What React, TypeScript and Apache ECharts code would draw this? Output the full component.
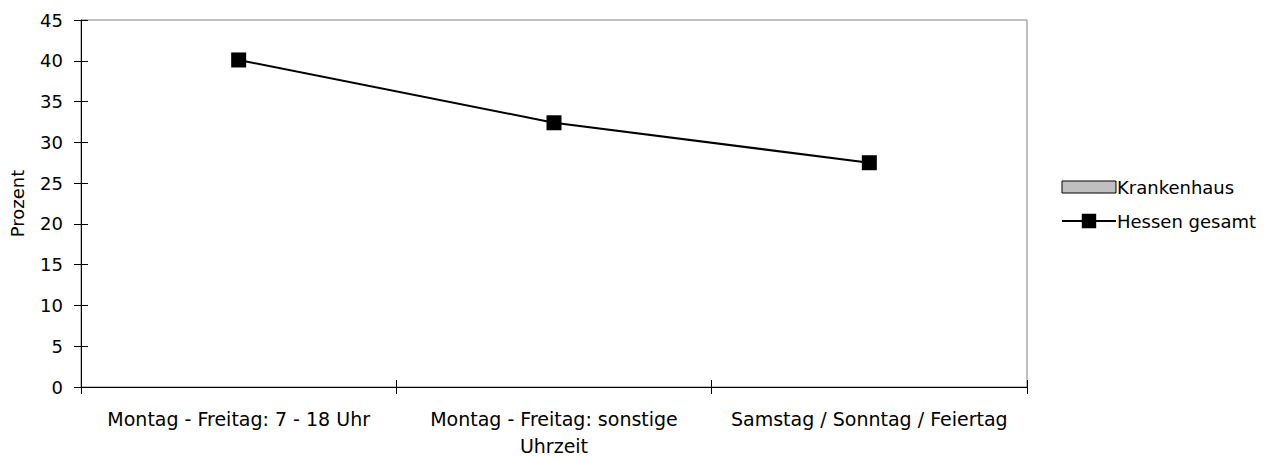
import React, { useEffect, useRef } from "react";
import * as echarts from "echarts";

const categories = ["Montag - Freitag: 7 - 18 Uhr", "Montag - Freitag: sonstige\nUhrzeit", "Samstag / Sonntag / Feiertag"];
const krankenhaus: number[] = [];
const hessenGesamt = [40.1, 32.4, 27.5];
const FONT = "DejaVu Sans";
const FS = 18;

export default function App() {
  const ref = useRef<HTMLDivElement>(null);
  useEffect(() => {
    if (!ref.current) return;
    const chart = echarts.init(ref.current, null, { renderer: "svg" });
    const yBase = {
      type: "value",
      min: 0,
      max: 45,
      interval: 5,
      splitLine: { show: false },
    };
    chart.setOption({
      animation: false,
      backgroundColor: "#ffffff",
      textStyle: { fontFamily: FONT },
      grid: {
        left: 81,
        right: 247,
        top: 20,
        bottom: 74,
        show: true,
        borderColor: "#808080",
        borderWidth: 1,
      },
      legend: {
        orient: "vertical",
        left: 1056,
        top: 173,
        itemWidth: 54,
        itemHeight: 18,
        itemGap: 16,
        symbolKeepAspect: true,
        textStyle: { fontFamily: FONT, fontSize: FS, lineHeight: 18, color: "#000", padding: [0, 0, 0, -4] },
        data: [
          {
            name: "Krankenhaus",
            icon: "path://M0,0 L54,0 L54,12 L0,12 Z",
            itemStyle: { color: "#c0c0c0", borderColor: "#000", borderWidth: 1 },
          },
          { name: "Hessen gesamt" },
        ],
      },
      xAxis: [
        {
          type: "category",
          data: categories,
          boundaryGap: true,
          axisLine: { lineStyle: { color: "#000", width: 1 } },
          axisTick: { show: true, length: 7, lineStyle: { color: "#000" } },
          axisLabel: { fontFamily: FONT, fontSize: 19, color: "#000", margin: 18, lineHeight: 27, interval: 0 },
        },
        {
          type: "category",
          data: categories,
          position: "bottom",
          boundaryGap: true,
          axisLine: { show: false },
          axisTick: { show: true, inside: true, length: 7, lineStyle: { color: "#000" } },
          axisLabel: { show: false },
        },
      ],
      yAxis: [
        {
          ...yBase,
          name: "Prozent",
          nameLocation: "middle",
          nameGap: 55,
          nameTextStyle: { fontFamily: FONT, fontSize: FS, color: "#000" },
          axisLine: { show: true, lineStyle: { color: "#000", width: 1 } },
          axisTick: { show: true, length: 7, lineStyle: { color: "#000" } },
          axisLabel: { fontFamily: FONT, fontSize: FS, color: "#000", margin: 18 },
        },
        {
          ...yBase,
          position: "left",
          axisLine: { show: false },
          axisTick: { show: true, inside: true, length: 7, lineStyle: { color: "#000" } },
          axisLabel: { show: false },
        },
      ],
      series: [
        {
          name: "Krankenhaus",
          type: "bar",
          data: krankenhaus,
          itemStyle: { color: "#c0c0c0", borderColor: "#000", borderWidth: 1 },
        },
        {
          name: "Hessen gesamt",
          type: "line",
          data: hessenGesamt,
          symbol: "rect",
          symbolSize: 15,
          lineStyle: { color: "#000", width: 2 },
          itemStyle: { color: "#000" },
        },
      ],
    });
    return () => chart.dispose();
  }, []);
  return <div ref={ref} style={{ width: 1274, height: 461, margin: -8 }} />;
}
